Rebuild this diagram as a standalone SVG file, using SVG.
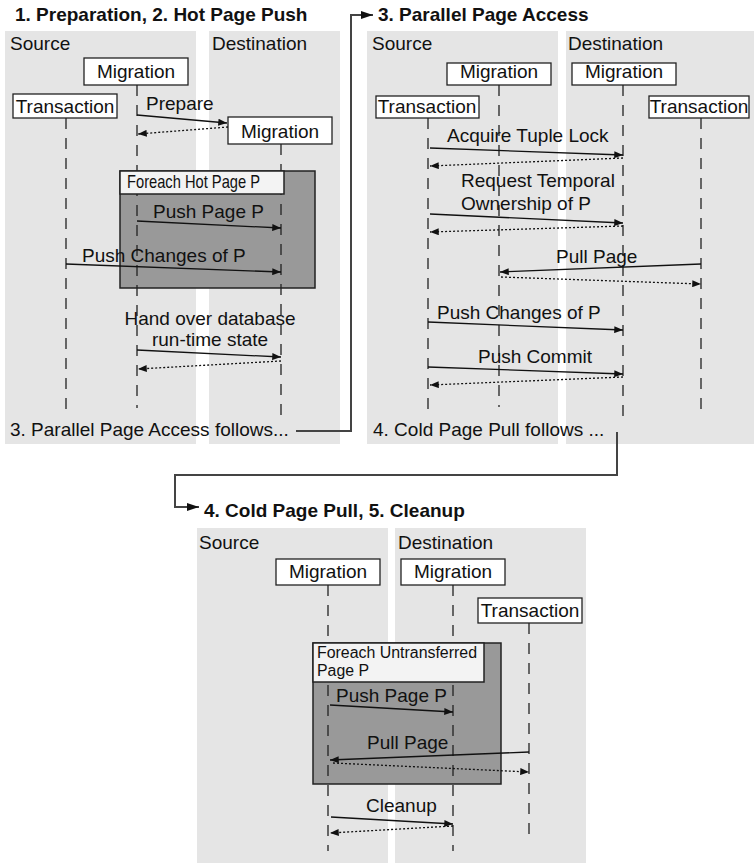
<svg xmlns="http://www.w3.org/2000/svg" width="754" height="863" viewBox="0 0 754 863">
  <style>
    .bg { fill: #ffffff; }
    .panel { fill: #e5e5e5; }
    .t { font-family: "Liberation Sans", Arial, sans-serif; font-size: 19px; fill: #111; }
    .title { font-weight: bold; }
    .mid { text-anchor: middle; }
    .small { font-size: 16px; }
    .box { fill: #ffffff; stroke: #222; stroke-width: 1.3; }
    .life { stroke: #222; stroke-width: 1.3; stroke-dasharray: 11 9; fill: none; }
    .loop { fill: #999999; stroke: #222; stroke-width: 1.5; }
    .loophead { fill: #f3f3f3; stroke: #222; stroke-width: 1.5; }
    .msg { stroke: #111; stroke-width: 1.3; fill: none; marker-end: url(#ah); }
    .ret { stroke: #111; stroke-width: 1.3; stroke-dasharray: 2 2; fill: none; marker-end: url(#ah); }
    .flow { stroke: #444; stroke-width: 2; fill: none; marker-end: url(#fh); }
  </style>
  <defs>
    <marker id="ah" viewBox="0 0 10 8" refX="10" refY="4" markerWidth="9" markerHeight="7" markerUnits="userSpaceOnUse" orient="auto">
      <path d="M0,0 L10,4 L0,8 Z" fill="#111"/>
    </marker>
    <marker id="fh" viewBox="0 0 12 8" refX="12" refY="4" markerWidth="13" markerHeight="8" markerUnits="userSpaceOnUse" orient="auto">
      <path d="M0,0 L12,4 L0,8 Z" fill="#111"/>
    </marker>
  </defs>

  <rect class="bg" x="0" y="0" width="754" height="863"/>

  <!-- Phase 1/2: preparation and hot page push -->
  <g id="phase-prep">
    <text class="t title" x="15" y="21">1. Preparation, 2. Hot Page Push</text>
    <rect class="panel" x="5" y="31" width="191" height="413"/>
    <rect class="panel" x="209" y="31" width="131" height="413"/>
    <text class="t" x="10" y="50">Source</text>
    <text class="t" x="212" y="50">Destination</text>
    <rect class="loop" x="120" y="171" width="195" height="117"/>
    <text class="t" x="10" y="436">3. Parallel Page Access follows...</text>
  </g>
  <g id="p1-src-migration">
    <line class="life" x1="137" y1="85" x2="137" y2="408"/>
    <rect class="box" x="84" y="58" width="104" height="27"/>
    <text class="t mid" x="136" y="78">Migration</text>
  </g>
  <g id="p1-src-transaction">
    <line class="life" x1="66" y1="118" x2="66" y2="418"/>
    <rect class="box" x="13" y="94" width="104" height="24"/>
    <text class="t mid" x="65" y="113">Transaction</text>
  </g>
  <g id="p1-dst-migration">
    <line class="life" x1="281" y1="144" x2="281" y2="423"/>
    <rect class="box" x="228" y="117" width="104" height="27"/>
    <text class="t mid" x="280" y="138">Migration</text>
  </g>
  <g id="p1-loop-head">
    <rect class="loophead" x="120" y="171" width="164" height="23"/>
    <text class="t" x="127" y="188" textLength="133" lengthAdjust="spacingAndGlyphs">Foreach Hot Page P</text>
  </g>

  <!-- Phase 3: parallel page access -->
  <g id="phase-parallel">
    <text class="t title" x="378" y="21">3. Parallel Page Access</text>
    <rect class="panel" x="367" y="31" width="191" height="413"/>
    <rect class="panel" x="566" y="31" width="188" height="413"/>
    <text class="t" x="372" y="50">Source</text>
    <text class="t" x="568" y="50">Destination</text>
    <text class="t" x="373" y="436">4. Cold Page Pull follows ...</text>
  </g>
  <g id="p3-src-migration">
    <line class="life" x1="499" y1="85" x2="499" y2="407"/>
    <rect class="box" x="447" y="63" width="104" height="22"/>
    <text class="t mid" x="499" y="78">Migration</text>
  </g>
  <g id="p3-dst-migration">
    <line class="life" x1="623" y1="85" x2="623" y2="420"/>
    <rect class="box" x="572" y="63" width="104" height="22"/>
    <text class="t mid" x="624" y="78">Migration</text>
  </g>
  <g id="p3-src-transaction">
    <line class="life" x1="428" y1="118" x2="428" y2="413"/>
    <rect class="box" x="376" y="96" width="103" height="22"/>
    <text class="t mid" x="427" y="113">Transaction</text>
  </g>
  <g id="p3-dst-transaction">
    <line class="life" x1="701" y1="118" x2="701" y2="418"/>
    <rect class="box" x="649" y="96" width="100" height="22"/>
    <text class="t mid" x="699" y="113">Transaction</text>
  </g>

  <!-- Phase 4/5: cold page pull and cleanup -->
  <g id="phase-cold">
    <text class="t title" x="204" y="517">4. Cold Page Pull, 5. Cleanup</text>
    <rect class="panel" x="197" y="528" width="191" height="335"/>
    <rect class="panel" x="395" y="528" width="191" height="335"/>
    <text class="t" x="199" y="549">Source</text>
    <text class="t" x="398" y="549">Destination</text>
    <rect class="loop" x="313" y="643" width="188" height="141"/>
  </g>
  <g id="p4-src-migration">
    <line class="life" x1="328" y1="585" x2="328" y2="851"/>
    <rect class="box" x="276" y="559" width="104" height="26"/>
    <text class="t mid" x="328" y="578">Migration</text>
  </g>
  <g id="p4-dst-migration">
    <line class="life" x1="453" y1="585" x2="453" y2="851"/>
    <rect class="box" x="401" y="559" width="104" height="26"/>
    <text class="t mid" x="453" y="578">Migration</text>
  </g>
  <g id="p4-dst-transaction">
    <line class="life" x1="529" y1="623" x2="529" y2="843"/>
    <rect class="box" x="478" y="598" width="104" height="25"/>
    <text class="t mid" x="530" y="617">Transaction</text>
  </g>
  <g id="p4-loop-head">
    <rect class="loophead" x="313" y="643" width="171" height="39"/>
    <text class="t small" x="317" y="658" textLength="160" lengthAdjust="spacingAndGlyphs">Foreach Untransferred</text>
    <text class="t small" x="317" y="676" textLength="52" lengthAdjust="spacingAndGlyphs">Page P</text>
  </g>

  <!-- Messages and phase-to-phase flow -->
  <g id="connectors">
    <text class="t" x="146" y="110">Prepare</text>
    <line class="msg" x1="137" y1="115" x2="227" y2="123"/>
    <line class="ret" x1="228" y1="127" x2="138" y2="134"/>
    <text class="t" x="153" y="218">Push Page P</text>
    <line class="msg" x1="137" y1="221" x2="281" y2="228"/>
    <text class="t" x="82" y="262">Push Changes of P</text>
    <line class="msg" x1="66" y1="264" x2="281" y2="272"/>
    <text class="t mid" x="210" y="325">Hand over database</text>
    <text class="t mid" x="210" y="346">run-time state</text>
    <line class="msg" x1="137" y1="350" x2="281" y2="357"/>
    <line class="ret" x1="281" y1="361" x2="138" y2="369"/>

    <text class="t" x="447" y="142">Acquire Tuple Lock</text>
    <line class="msg" x1="430" y1="148" x2="623" y2="155"/>
    <line class="ret" x1="623" y1="158" x2="430" y2="166"/>
    <text class="t" x="461" y="187">Request Temporal</text>
    <text class="t" x="461" y="210">Ownership of P</text>
    <line class="msg" x1="430" y1="214" x2="623" y2="223"/>
    <line class="ret" x1="623" y1="226" x2="430" y2="232"/>
    <text class="t" x="556" y="263">Pull Page</text>
    <line class="msg" x1="701" y1="264" x2="500" y2="272"/>
    <line class="ret" x1="501" y1="277" x2="701" y2="284"/>
    <text class="t" x="437" y="319">Push Changes of P</text>
    <line class="msg" x1="428" y1="322" x2="623" y2="330"/>
    <text class="t" x="478" y="363">Push Commit</text>
    <line class="msg" x1="428" y1="367" x2="623" y2="374"/>
    <line class="ret" x1="623" y1="377" x2="430" y2="385"/>

    <text class="t" x="336" y="702">Push Page P</text>
    <line class="msg" x1="330" y1="705" x2="453" y2="712"/>
    <text class="t" x="367" y="749">Pull Page</text>
    <line class="msg" x1="529" y1="752" x2="330" y2="760"/>
    <line class="ret" x1="333" y1="763" x2="529" y2="772"/>
    <text class="t" x="366" y="812">Cleanup</text>
    <line class="msg" x1="331" y1="817" x2="453" y2="824"/>
    <line class="ret" x1="453" y1="826" x2="330" y2="833"/>

    <path class="flow" d="M296,431 H351 V15 H373"/>
    <path class="flow" d="M617,432 V475 H175 V507 H199"/>
  </g>
</svg>
